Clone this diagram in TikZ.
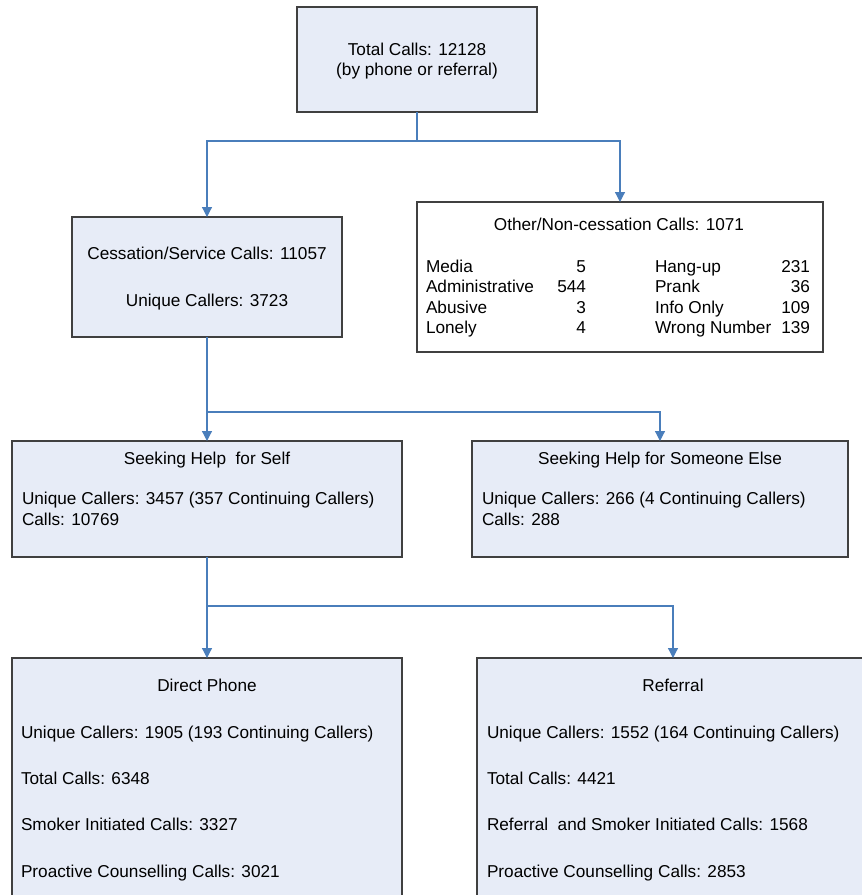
\documentclass[tikz,border=0pt]{standalone}
\usepackage{fontspec}
\setmainfont{Liberation Sans}
\usetikzlibrary{arrows.meta}
\definecolor{boxfill}{RGB}{231,236,247}
\definecolor{boxdraw}{RGB}{64,64,64}
\definecolor{conn}{RGB}{74,126,187}
\tikzset{
  box/.style={draw=boxdraw, fill=boxfill, line width=1.1pt, anchor=north west, inner sep=0pt, outer sep=0pt},
  wbox/.style={box, fill=white},
  txt/.style={inner sep=0pt, outer sep=0pt, font=\fontsize{17.2}{20.6}\selectfont},
  ttl/.style={txt, anchor=base},
  lft/.style={txt, anchor=base west},
  rgt/.style={txt, anchor=base east},
  link/.style={draw=conn, line width=1.2pt},
  arr/.style={link, -{Triangle[length=10pt,width=10pt]}}
}
\begin{document}
\begin{tikzpicture}[x=1pt,y=-1pt]
\useasboundingbox (0,0) rectangle (862,895);
\clip (0,0) rectangle (862,895);
% boxes
\node[box, minimum width=240pt, minimum height=105pt] (top) at (297,7) {};
\node[box, minimum width=270pt, minimum height=120pt] (cess) at (72,217) {};
\node[wbox, minimum width=406pt, minimum height=150pt] (other) at (417,202) {};
\node[box, minimum width=390pt, minimum height=116pt] (self) at (12,441) {};
\node[box, minimum width=376pt, minimum height=116pt] (else) at (472,441) {};
\node[box, minimum width=390pt, minimum height=270pt] (direct) at (12,658) {};
\node[box, minimum width=392pt, minimum height=270pt] (referral) at (477,658) {};
% top text
\node[ttl] (t1) at (417,55) {Total Calls: 12128};
\node[ttl] (t2) at (417,75) {(by phone or referral)};
% cessation text
\node[ttl] (c1) at (207,259) {Cessation/Service Calls: 11057};
\node[ttl] (c2) at (207,306) {Unique Callers: 3723};
% other text
\node[ttl] (o0) at (619,230) {Other/Non-cessation Calls: 1071};
\node[lft] (o1) at (426,272) {Media};
\node[lft] (o2) at (426,292.5) {Administrative};
\node[lft] (o3) at (426,313) {Abusive};
\node[lft] (o4) at (426,333.5) {Lonely};
\node[rgt] (n1) at (586,272) {5};
\node[rgt] (n2) at (586,292.5) {544};
\node[rgt] (n3) at (586,313) {3};
\node[rgt] (n4) at (586,333.5) {4};
\node[lft] (o5) at (655,272) {Hang-up};
\node[lft] (o6) at (655,292.5) {Prank};
\node[lft] (o7) at (655,313) {Info Only};
\node[lft] (o8) at (655,333.5) {Wrong Number};
\node[rgt] (n5) at (810,272) {231};
\node[rgt] (n6) at (810,292.5) {36};
\node[rgt] (n7) at (810,313) {109};
\node[rgt] (n8) at (810,333.5) {139};
% self text
\node[ttl] (s0) at (207,464) {Seeking Help\ \ for Self};
\node[lft] (s1) at (22,504) {Unique Callers: 3457 (357 Continuing Callers)};
\node[lft] (s2) at (22,525) {Calls: 10769};
% someone else text
\node[ttl] (e0) at (660,464) {Seeking Help for Someone Else};
\node[lft] (e1) at (482,504) {Unique Callers: 266 (4 Continuing Callers)};
\node[lft] (e2) at (482,525) {Calls: 288};
% direct text
\node[ttl] (d0) at (207,691) {Direct Phone};
\node[lft] (d1) at (21,738) {Unique Callers: 1905 (193 Continuing Callers)};
\node[lft] (d2) at (21,784) {Total Calls: 6348};
\node[lft] (d3) at (21,830.5) {Smoker Initiated Calls: 3327};
\node[lft] (d4) at (21,877) {Proactive Counselling Calls: 3021};
% referral text
\node[ttl] (r0) at (673,691) {Referral};
\node[lft] (r1) at (487,738) {Unique Callers: 1552 (164 Continuing Callers)};
\node[lft] (r2) at (487,784) {Total Calls: 4421};
\node[lft] (r3) at (487,830.5) {Referral\ \ and Smoker Initiated Calls: 1568};
\node[lft] (r4) at (487,877) {Proactive Counselling Calls: 2853};
% connectors
\coordinate (j1) at (417,141);
\coordinate (j2) at (207,412);
\coordinate (j3) at (207,606);
\draw[link] (top.south) -- (j1);
\draw[arr] (j1) -| (cess.north);
\draw[arr] (j1) -| (other.north);
\draw[link] (cess.south) -- (j2);
\draw[arr] (j2) -- (self.north);
\draw[arr] (j2) -| (else.north);
\draw[link] (self.south) -- (j3);
\draw[arr] (j3) -- (direct.north);
\draw[arr] (j3) -| (referral.north);
\end{tikzpicture}
\end{document}
